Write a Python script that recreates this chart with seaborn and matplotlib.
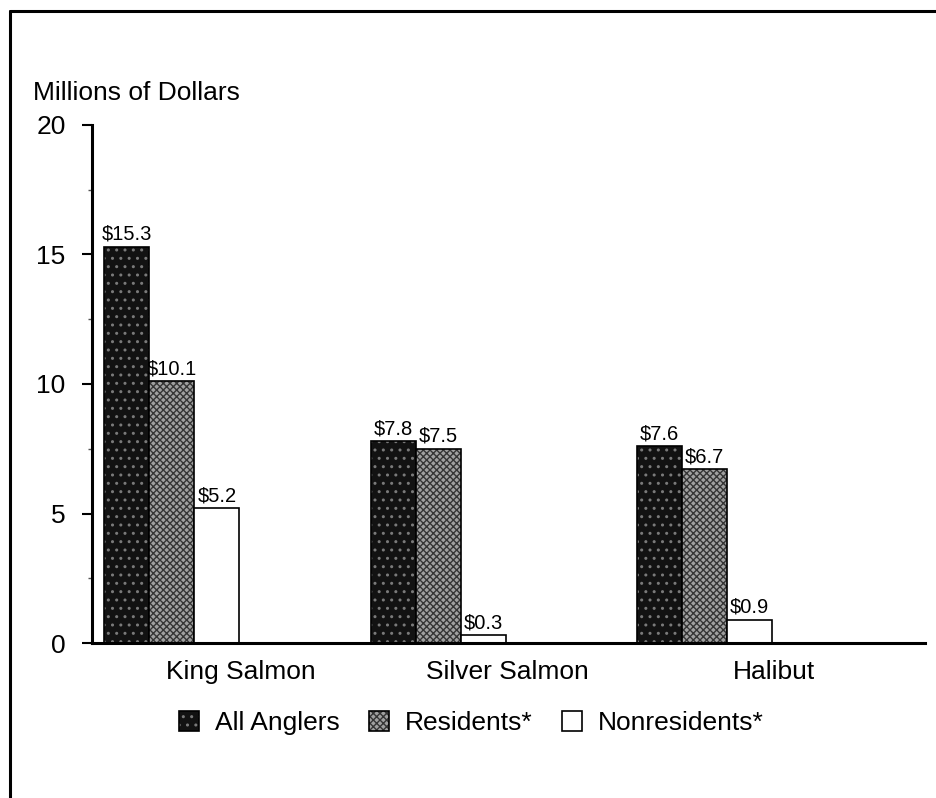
import numpy as np
import pandas as pd
import matplotlib
matplotlib.use("Agg")
import matplotlib.pyplot as plt
import matplotlib.colors as mcolors
from matplotlib.lines import Line2D
from matplotlib.ticker import MultipleLocator
import seaborn as sns

# data
species = ["King Salmon", "Silver Salmon", "Halibut"]
groups = ["All Anglers", "Residents*", "Nonresidents*"]
all_anglers = [15.3, 7.8, 7.6]
residents = [10.1, 7.5, 6.7]
nonresidents = [5.2, 0.3, 0.9]

df = pd.DataFrame({
    "species": species * 3,
    "group": [groups[0]] * 3 + [groups[1]] * 3 + [groups[2]] * 3,
    "value": all_anglers + residents + nonresidents,
})

sns.set_theme(style="white")
plt.rcParams["font.family"] = ["Liberation Sans", "DejaVu Sans"]
plt.rcParams["hatch.linewidth"] = 1.0
plt.rcParams["text.color"] = "black"

fig = plt.figure(figsize=(9.37, 7.98), dpi=100)
ax = fig.add_axes([0.0982, 0.1942, 0.987 - 0.0982, 0.8434 - 0.1942])

sns.barplot(data=df, x="species", y="value", hue="group", order=species,
            hue_order=groups, width=0.507, ax=ax, legend=False,
            palette=["#151515", "#9a9a9a", "white"], saturation=1)

# textures: speckled black, grey crosshatch, plain white
styles = [
    dict(face="#121212", hatch="..", hatch_color="#7a7a7a"),
    dict(face="#a0a0a0", hatch="xxxxx", hatch_color="#353535"),
    dict(face="white", hatch=None, hatch_color="black"),
]
for cont, st in zip(ax.containers, styles):
    for p in cont.patches:
        p.set_facecolor(st["face"])
        p.set_edgecolor("black")
        p.set_linewidth(1.2)
        if st["hatch"]:
            p.set_hatch(st["hatch"])
            p._hatch_color = mcolors.to_rgba(st["hatch_color"])
    ax.bar_label(cont, labels=[f"${v:.1f}" for v in cont.datavalues],
                 padding=2, fontsize=14.5, color="black")

ax.set_ylim(0, 20)
ax.set_xlim(-0.300, 2.826)
ax.yaxis.set_major_locator(MultipleLocator(5))
ax.yaxis.set_minor_locator(MultipleLocator(2.5))
ax.tick_params(axis="y", which="major", left=True, length=7, width=1.5,
               pad=12, labelsize=19, colors="black")
ax.tick_params(axis="y", which="minor", left=True, length=3, width=1.0,
               colors="#555555")
ax.set_xticks(np.arange(len(species)) + 0.26, species)
ax.tick_params(axis="x", length=0, pad=12, labelsize=19, colors="black")
ax.set_xlabel("")
ax.set_ylabel("")

for side in ["top", "right"]:
    ax.spines[side].set_visible(False)
for side in ["left", "bottom"]:
    ax.spines[side].set_color("black")
    ax.spines[side].set_linewidth(2.2)

fig.text(0.035, 0.8835, "Millions of Dollars", fontsize=19, va="center",
         ha="left", color="black")

handles = [c.patches[0] for c in ax.containers]
leg = fig.legend(handles, groups, loc="center", bbox_to_anchor=(0.503, 0.094),
                 ncol=3, frameon=False, fontsize=19, handlelength=0.76,
                 handleheight=0.76, handletextpad=0.6, columnspacing=1.1,
                 borderpad=0, labelcolor="black")

# frame around the figure (top and left edges visible)
fig.add_artist(Line2D([10 / 937, 1.0], [1 - 11 / 798] * 2, color="black",
                      lw=2.2, transform=fig.transFigure))
fig.add_artist(Line2D([10 / 937] * 2, [0.0, 1 - 11 / 798], color="black",
                      lw=2.2, transform=fig.transFigure))

fig.savefig("out.png", dpi=100, facecolor="white")
